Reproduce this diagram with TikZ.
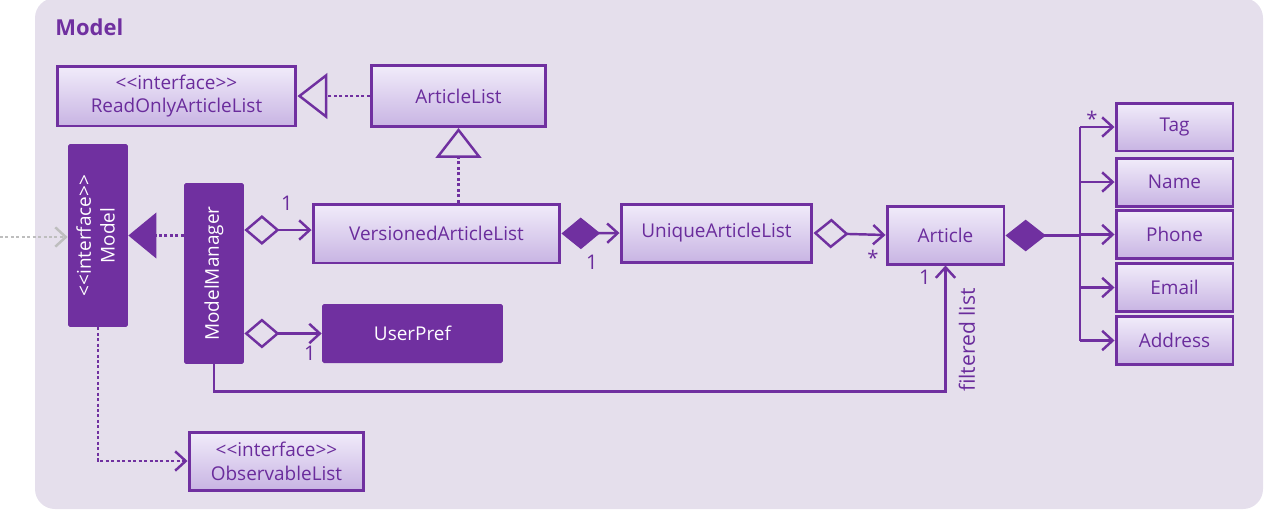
\documentclass[tikz,border=0pt]{standalone}
\usepackage{fontspec}
\setmainfont{Open Sans}
\usetikzlibrary{arrows.meta,positioning,calc}
\definecolor{umlpurple}{HTML}{7030A0}
\definecolor{umltext}{HTML}{6A2C9C}
\definecolor{umlbg}{HTML}{E5DFEC}
\definecolor{umltop}{HTML}{F1ECFA}
\definecolor{umlbot}{HTML}{C8B4E3}
\definecolor{umlgray}{HTML}{BEBEBE}
\newcommand{\iface}{<{}<interface>{}>}
\tikzset{
umlbox/.style={rectangle,draw=umlpurple,line width=1.7pt,top color=umltop,bottom color=umlbot,
  text=umltext,align=center,inner sep=1pt},
umldark/.style={rectangle,rounded corners=1pt,fill=umlpurple,text=white,align=center,inner sep=1pt},
umlline/.style={draw=umlpurple,line width=1.4pt},
umldot/.style={umlline,dash pattern=on 1.7pt off 1.4pt},
umlarr/.style={umlline,-{Straight Barb[length=6pt,width=11pt,line width=1.4pt]}},
hollowdia/.style={umlline,{Diamond[open,length=20pt,width=17pt,line width=1.4pt]}-{Straight Barb[length=6pt,width=11pt,line width=1.4pt]}},
solidia/.style={umlline,{Diamond[fill=umlpurple,length=22pt,width=18pt]}-{Straight Barb[length=6pt,width=11pt,line width=1.4pt]}},
realize/.style={umldot,-{Triangle[open,length=17pt,width=26pt,line width=1.4pt,fill=umlbg]}},
multlabel/.style={text=umltext,inner sep=0pt,font=\fontsize{11.5}{13}\selectfont}
}
\begin{document}
\begin{tikzpicture}[x=0.02cm,y=-0.02cm,font=\fontsize{10.8}{13.5}\selectfont]
\useasboundingbox (0,0) rectangle (1264,512);
\fill[umlbg,rounded corners=0.4cm] (35,-2) rectangle (1263,509);
\node[anchor=west,text=umlpurple,inner sep=0pt,font=\fontsize{12.5}{14}\selectfont\bfseries] (title) at (55,27) {Model};
% interfaces and lists
\node[umlbox,minimum width=4.78cm,minimum height=1.2cm] (rolist) at (176.5,96) {\iface\\ReadOnlyArticleList};
\node[umlbox,minimum width=3.5cm,minimum height=1.22cm] (alist) at (458.5,96) {ArticleList};
\node[umldark,minimum width=1.2cm,minimum height=3.66cm] (model) at (98,235.5) {\rotatebox{90}{\begin{tabular}{@{}c@{}}\iface\\Model\end{tabular}}};
\node[umldark,minimum width=1.2cm,minimum height=3.62cm] (mm) at (214,273.5) {\rotatebox{90}{ModelManager}};
\node[umlbox,minimum width=4.94cm,minimum height=1.18cm] (vlist) at (436.5,233.5) {VersionedArticleList};
\node[umlbox,minimum width=3.82cm,minimum height=1.16cm] (ulist) at (716.5,233) {UniqueArticleList};
\node[umlbox,minimum width=2.34cm,minimum height=1.16cm] (article) at (945.5,235) {Article};
\node[umldark,minimum width=3.62cm,minimum height=1.18cm] (upref) at (412.5,333.5) {UserPref};
\node[umlbox,minimum width=3.5cm,minimum height=1.16cm] (olist) at (276.5,461) {\iface\\ObservableList};
% article fields
\node[umlbox,minimum width=2.34cm,minimum height=0.96cm] (tag) at (1174.5,127) {Tag};
\node[umlbox,minimum width=2.34cm,minimum height=0.96cm] (name) at (1174.5,182) {Name};
\node[umlbox,minimum width=2.34cm,minimum height=0.96cm] (phone) at (1174.5,234.5) {Phone};
\node[umlbox,minimum width=2.34cm,minimum height=0.96cm] (email) at (1174.5,287.5) {Email};
\node[umlbox,minimum width=2.34cm,minimum height=0.96cm] (address) at (1174.5,340.5) {Address};
% connectors
\coordinate (outside) at (0,237);
\draw[umlgray,line width=1.4pt,dash pattern=on 1.7pt off 1.4pt,-{Straight Barb[length=6pt,width=11pt,line width=1.4pt]}] (outside) -- (model.west |- outside);
\draw[realize] (alist.west |- rolist.east) -- (rolist.east);
\draw[realize] (vlist.north -| alist.south) -- (alist.south);
\draw[umldot,-{Triangle[fill=umlpurple,length=16pt,width=26pt]}] (mm.west |- model.east) -- (model.east);
\draw[hollowdia] (mm.east |- 0,230) -- (vlist.west |- 0,230);
\draw[hollowdia] (mm.east |- upref.west) -- (upref.west);
\draw[solidia] (vlist.east) -- (ulist.west);
\draw[hollowdia] (ulist.east) -- (article.west);
\draw[umlarr] (mm.south) -- ++(0,27) -| (article.south);
\draw[umldot,-{Straight Barb[length=6pt,width=11pt,line width=1.4pt]}] (model.south) |- (olist.west);
\coordinate (fork) at (1080,235.5);
\draw[umlline,{Diamond[fill=umlpurple,length=23pt,width=18pt]}-] (article.east |- fork) -- (fork);
\draw[umlline] (fork |- tag.west) -- (fork |- address.west);
\foreach \f in {tag,name,phone,email,address}
  \draw[umlarr] (fork |- \f.west) -- (\f.west);
% multiplicities
\node[multlabel] (m1) at (287,203) {1};
\node[multlabel] (m2) at (592,262) {1};
\node[multlabel] (m3) at (873,258) {*};
\node[multlabel] (m4) at (310,353) {1};
\node[multlabel] (m5) at (925,277) {1};
\node[multlabel] (m6) at (1092,119) {*};
\node[multlabel,rotate=90,font=\fontsize{12}{14}\selectfont] (flt) at (967,340) {filtered list};
\end{tikzpicture}
\end{document}
